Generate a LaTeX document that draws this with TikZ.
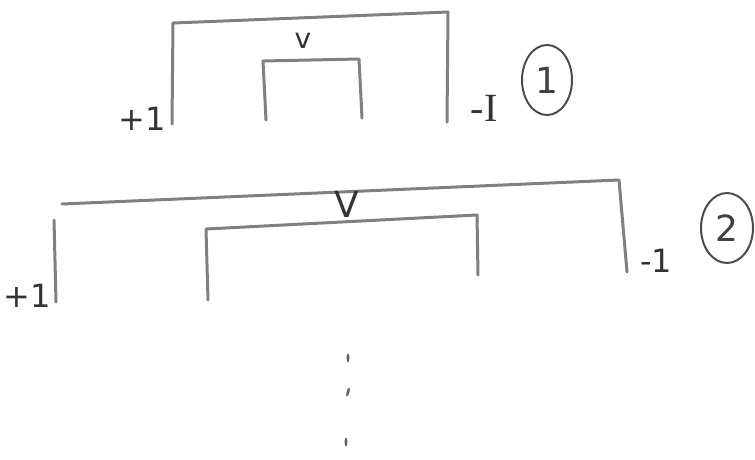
\documentclass[tikz,border=0pt]{standalone}
\usepackage{fontspec}
\setmainfont{DejaVu Sans}
\newfontfamily\serifhand{Liberation Serif}
\usetikzlibrary{shapes.geometric}
\begin{document}
\begin{tikzpicture}[x=1pt,y=-1pt,
  pen/.style={draw=black!50, line width=3pt, line cap=round, line join=round},
  lbl/.style={text=black!80, inner sep=0pt, font=\fontsize{32}{32}\selectfont},
  num/.style={ellipse, draw=black!70, line width=2pt, minimum width=50pt, minimum height=70pt, inner sep=0pt, text=black!75, font=\fontsize{36}{36}\selectfont},
  dot/.style={fill=black!60, ellipse, minimum width=3pt, minimum height=9pt, inner sep=0pt}]
\useasboundingbox (0,0) rectangle (755,459);
% ---- diagram 1 ----
\coordinate (a1) at (172,124);
\coordinate (a2) at (173,23);
\coordinate (a3) at (448,12);
\coordinate (a4) at (447,122);
\draw[pen] (a1) -- (a2) -- (a3) -- (a4);
\coordinate (b1) at (266,120);
\coordinate (b2) at (263,61);
\coordinate (b3) at (359,59);
\coordinate (b4) at (362,118);
\draw[pen] (b1) -- (b2) -- (b3) -- (b4);
\node[lbl, font=\fontsize{28}{28}\selectfont] (v1) at (303,41) {v};
\node[lbl] (p1) at (142,119) {+1};
\node[lbl, font=\fontsize{40}{40}\serifhand] (m1) at (484,108) {-I};
\node[num] (c1) at (547,80) {1};
% ---- diagram 2 ----
\coordinate (d1) at (56,302);
\coordinate (d2) at (54,220);
\coordinate (e1) at (62,204);
\coordinate (e2) at (619,180);
\coordinate (e3) at (627,272);
\draw[pen] (d1) -- (d2);
\draw[pen] (e1) -- (e2) -- (e3);
\coordinate (f1) at (208,300);
\coordinate (f2) at (206,229);
\coordinate (f3) at (477,215);
\coordinate (f4) at (478,275);
\draw[pen] (f1) -- (f2) -- (f3) -- (f4);
\node[lbl, font=\fontsize{36}{36}\selectfont] (v2) at (347,204) {V};
\node[lbl] (p2) at (27,296) {+1};
\node[lbl] (m2) at (656,261) {-1};
\node[num, minimum width=52pt, minimum height=70pt] (c2) at (727,228) {2};
% ---- continuation dots ----
\node[dot] (t1) at (348,358) {};
\node[dot, rotate=-15] (t2) at (348,392) {};
\node[dot] (t3) at (346,442) {};
\end{tikzpicture}
\end{document}
